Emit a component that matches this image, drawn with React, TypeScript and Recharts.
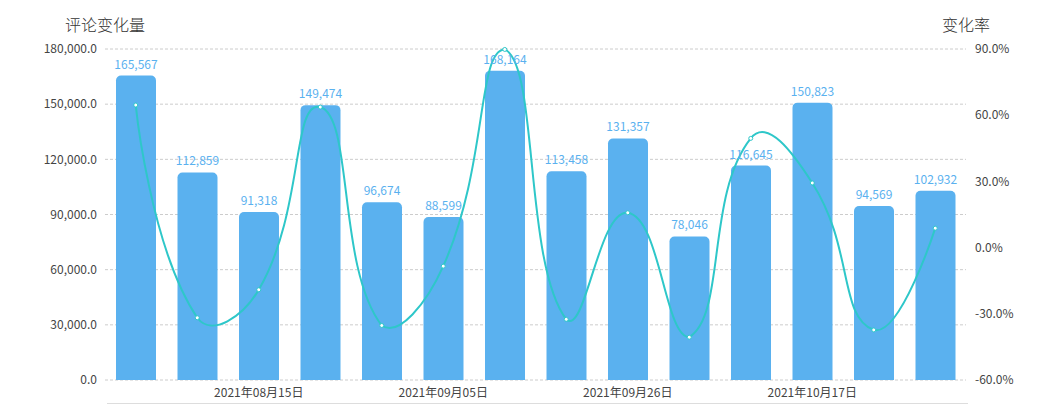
import React from 'react';
import { ComposedChart, Bar, Line, XAxis, YAxis, CartesianGrid, LabelList } from 'recharts';

const dates = [
  '2021年08月01日', '2021年08月08日', '2021年08月15日', '2021年08月22日', '2021年08月29日',
  '2021年09月05日', '2021年09月12日', '2021年09月19日', '2021年09月26日', '2021年10月03日',
  '2021年10月10日', '2021年10月17日', '2021年10月24日', '2021年10月31日',
];
const commentChange = [165567, 112859, 91318, 149474, 96674, 88599, 168164, 113458, 131357, 78046, 116645, 150823, 94569, 102932];
const changeRate = [64.6, -31.8, -19.1, 63.7, -35.3, -8.4, 89.8, -32.5, 15.8, -40.6, 49.5, 29.3, -37.3, 8.8];
const shownDates = ['2021年08月15日', '2021年09月05日', '2021年09月26日', '2021年10月17日'];
const leftTicks = [0, 30000, 60000, 90000, 120000, 150000, 180000];
const rightTicks = [-60, -30, 0, 30, 60, 90];

const data = dates.map((d, i) => ({ date: d, count: commentChange[i], rate: changeRate[i] }));

const BAR = '#5ab1ef';
const LINE = '#2ec7c9';
const FONT = "'Noto Sans CJK SC', 'Noto Sans', sans-serif";

// echarts-4 style smooth curve (smooth = 0.5, constrained to point bbox)
const echartsSmooth = (context: any) => {
  let xs: number[] = [];
  let ys: number[] = [];
  return {
    areaStart() {},
    areaEnd() {},
    lineStart() { xs = []; ys = []; },
    point(x: number, y: number) { xs.push(+x); ys.push(+y); },
    lineEnd() {
      const n = xs.length;
      if (!n) return;
      const s = 0.5;
      const minX = Math.min(...xs), maxX = Math.max(...xs);
      const minY = Math.min(...ys), maxY = Math.max(...ys);
      const cx = (v: number) => Math.max(minX, Math.min(maxX, v));
      const cy = (v: number) => Math.max(minY, Math.min(maxY, v));
      context.moveTo(xs[0], ys[0]);
      let cp0x = xs[0], cp0y = ys[0];
      let vx = 0, vy = 0, r = 0.5;
      for (let i = 1; i < n; i++) {
        const x = xs[i], y = ys[i];
        const px = xs[i - 1], py = ys[i - 1];
        let cp1x = x, cp1y = y;
        if (i + 1 < n) {
          const nx = xs[i + 1], ny = ys[i + 1];
          vx = nx - px; vy = ny - py;
          const d0 = Math.hypot(x - px, y - py);
          const d1 = Math.hypot(nx - x, ny - y);
          r = d0 + d1 > 0 ? d1 / (d0 + d1) : 0.5;
          cp1x = x - vx * s * (1 - r);
          cp1y = y - vy * s * (1 - r);
        }
        context.bezierCurveTo(cx(cp0x), cy(cp0y), cx(cp1x), cy(cp1y), x, y);
        cp0x = x + vx * s * r;
        cp0y = y + vy * s * r;
      }
    },
  };
};

const fmtLeft = (v: number) => v.toLocaleString('en-US', { minimumFractionDigits: 1, maximumFractionDigits: 1 });
const fmtRight = (v: number) => `${v.toFixed(1)}%`;

const titleStyle: React.CSSProperties = {
  position: 'absolute',
  top: 6,
  transform: 'translateX(-50%)',
  fontSize: 16,
  lineHeight: '20px',
  color: '#333',
  fontWeight: 300,
  whiteSpace: 'nowrap',
};

export default function App() {
  return (
    <div style={{ position: 'relative', width: 1045, height: 396, fontFamily: FONT }}>
      <div style={{ ...titleStyle, left: 97 }}>评论变化量</div>
      <div style={{ ...titleStyle, left: 958 }}>变化率</div>
      <ComposedChart width={1045} height={396} data={data} margin={{ top: 41, right: 0, bottom: 0, left: 0 }}>
        <CartesianGrid yAxisId="left" vertical={false} stroke="#ccc" strokeDasharray="3 2" />
        <XAxis
          dataKey="date"
          height={24}
          axisLine={false}
          tickLine={false}
          interval={0}
          tickSize={6}
          tickMargin={2}
          tick={{ fontSize: 12, fill: '#444', fontFamily: FONT }}
          tickFormatter={(v: string) => (shownDates.includes(v) ? v : '')}
        />
        <YAxis
          yAxisId="left"
          orientation="left"
          width={97}
          domain={[0, 180000]}
          ticks={leftTicks}
          axisLine={false}
          tickLine={false}
          tickSize={6}
          tickMargin={2}
          tick={{ fontSize: 12, fill: '#444', fontFamily: FONT }}
          tickFormatter={fmtLeft}
        />
        <YAxis
          yAxisId="right"
          orientation="right"
          width={87}
          domain={[-60, 90]}
          ticks={rightTicks}
          axisLine={false}
          tickLine={false}
          tickSize={6}
          tickMargin={3}
          tick={{ fontSize: 12, fill: '#444', fontFamily: FONT }}
          tickFormatter={fmtRight}
        />
        <Bar yAxisId="left" dataKey="count" fill={BAR} barSize={40} radius={[5, 5, 0, 0]} isAnimationActive={false}>
          <LabelList
            dataKey="count"
            position="top"
            offset={7}
            fill={BAR}
            fontSize={12}
            fontFamily={FONT}
            formatter={(v: any) => Number(v).toLocaleString('en-US')}
          />
        </Bar>
        <Line
          yAxisId="right"
          dataKey="rate"
          type={echartsSmooth as any}
          stroke={LINE}
          strokeWidth={2}
          dot={{ r: 2, fill: '#fff', stroke: LINE, strokeWidth: 1 }}
          activeDot={false}
          isAnimationActive={false}
        />
      </ComposedChart>
      <div style={{ position: 'absolute', left: 99, top: 395, width: 861, height: 1, background: '#ddd' }} />
    </div>
  );
}
